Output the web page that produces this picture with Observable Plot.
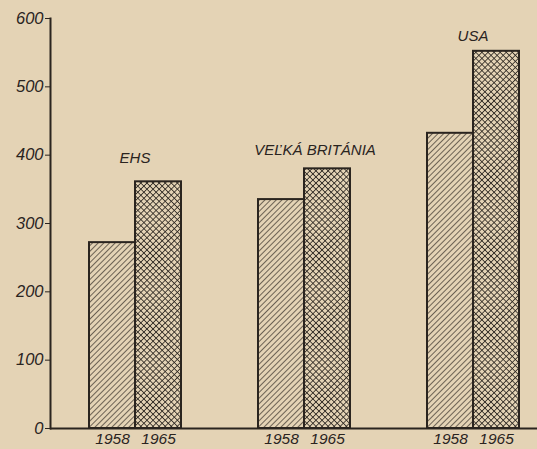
<!DOCTYPE html>
<html><head><meta charset="utf-8">
<script src="https://cdn.jsdelivr.net/npm/d3@7"></script>
<script src="https://cdn.jsdelivr.net/npm/@observablehq/plot@0.6"></script>
<style>
html,body{margin:0;padding:0;background:#e4d3b5;overflow:hidden;}
</style></head><body><div id="chart"></div>
<script>
const countries = ["EHS", "VEĽKÁ BRITÁNIA", "USA"];
const years = ["1958", "1965"];
const values1958 = [272, 335, 432];
const values1965 = [361, 380, 552];
const yTicks = [0, 100, 200, 300, 400, 500, 600];

const data = countries.flatMap((c, i) => [
  {country: c, year: years[0], value: values1958[i]},
  {country: c, year: years[1], value: values1965[i]}
]);
const labels = countries.map((c, i) => ({country: c, value: Math.max(values1958[i], values1965[i])}));

const ink = "#2a241f";
const paper = "#e4d3b5";
const font = "'Liberation Sans', Arial, sans-serif";

const labelMark = (name, dx, dy) => Plot.text(labels, {
  filter: d => d.country === name, fx: "country", y: "value", text: "country",
  dx, dy, fill: ink, fontSize: 15, fontStyle: "italic", letterSpacing: 0.4, fontFamily: font
});

const plot = Plot.plot({
  width: 537, height: 449,
  marginLeft: 49, marginRight: 0, marginTop: 18, marginBottom: 21,
  style: {background: "transparent", fontFamily: font, fontStyle: "italic", fontSize: "16.5px", color: ink, overflow: "visible"},
  fx: {domain: countries, range: [49.25, 557.75], padding: 0, axis: null},
  x: {domain: years, paddingInner: 0, paddingOuter: 0.803, axis: null},
  y: {domain: [0, 600], ticks: yTicks, tickSize: 5, tickPadding: 2, label: null, line: true},
  marks: [
    Plot.barY(data, {filter: d => d.year === years[0], fx: "country", x: "year", y: "value", fill: "url(#hatch)", stroke: ink, strokeWidth: 2}),
    Plot.barY(data, {filter: d => d.year === years[1], fx: "country", x: "year", y: "value", fill: "url(#cross)", stroke: ink, strokeWidth: 2}),
    Plot.ruleY([0], {stroke: ink, strokeWidth: 2}),
    Plot.axisX({tickSize: 0, tickPadding: 4, label: null, fontSize: 15.5, fill: ink}),
    labelMark(countries[0], 0, -24),
    labelMark(countries[1], 11, -19),
    labelMark(countries[2], 0, -15)
  ]
});

const svg = d3.select(plot);
const defs = svg.insert("defs", ":first-child");
const hs = 4.0;
const h = defs.append("pattern").attr("id", "hatch").attr("patternUnits", "userSpaceOnUse")
  .attr("width", hs).attr("height", hs).attr("patternTransform", "rotate(45)");
h.append("rect").attr("width", hs).attr("height", hs).attr("fill", paper);
h.append("line").attr("x1", 0).attr("y1", 0).attr("x2", 0).attr("y2", hs).attr("stroke", ink).attr("stroke-width", 1.3);
const cs = 4.3;
const c = defs.append("pattern").attr("id", "cross").attr("patternUnits", "userSpaceOnUse")
  .attr("width", cs).attr("height", cs).attr("patternTransform", "rotate(45)");
c.append("rect").attr("width", cs).attr("height", cs).attr("fill", paper);
c.append("line").attr("x1", 0).attr("y1", 0).attr("x2", 0).attr("y2", cs).attr("stroke", ink).attr("stroke-width", 1.6);
c.append("line").attr("x1", 0).attr("y1", 0).attr("x2", cs).attr("y2", 0).attr("stroke", ink).attr("stroke-width", 1.6);

// thicken the axis line drawn by Plot
svg.selectAll("[aria-label='y-axis line'] *, [aria-label='frame'] *").attr("stroke-width", 2);

document.getElementById("chart").appendChild(plot);
</script></body></html>
